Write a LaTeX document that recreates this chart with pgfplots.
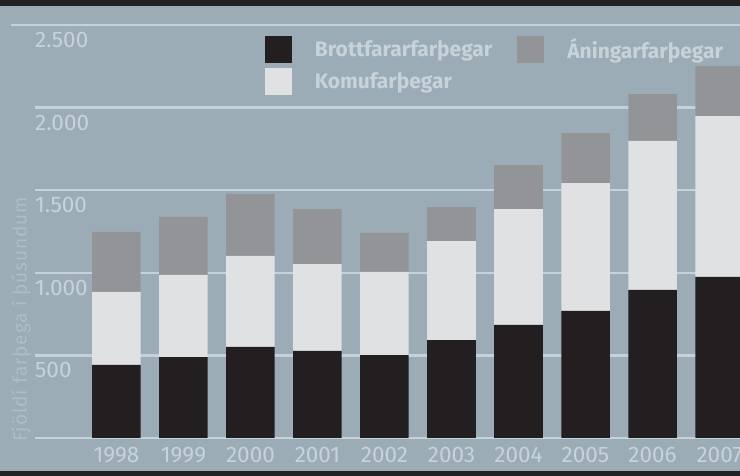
\documentclass[border=0pt]{standalone}
\usepackage{fontspec}
\setmainfont{Fira Sans}
\newfontfamily\ylabfont[LetterSpace=5]{Fira Sans}
\usepackage{pgfplots}
\pgfplotsset{compat=1.18}
\definecolor{bg}{RGB}{155,172,183}
\definecolor{band}{RGB}{35,33,36}
\definecolor{gridc}{RGB}{197,210,218}
\definecolor{brott}{RGB}{35,31,32}
\definecolor{komu}{RGB}{224,225,227}
\definecolor{aning}{RGB}{147,148,152}
\definecolor{ticktext}{RGB}{200,210,217}
\definecolor{ylabtext}{RGB}{174,189,199}
\begin{document}
\begin{tikzpicture}[x=1pt,y=1pt]
\fill[bg] (0,0) rectangle (740,476);
\fill[band] (0,470) rectangle (740,476);
\fill[band] (0,0) rectangle (740,4.5);
\begin{axis}[
  at={(35pt,38pt)}, anchor=south west,
  scale only axis, width=705pt, height=413pt,
  xmin=1996.7836, xmax=2007.306,
  ymin=0, ymax=2500,
  axis line style={draw=none},
  ybar stacked, bar width=48.5pt,
  xtick={1998,1999,2000,2001,2002,2003,2004,2005,2006,2007},
  xticklabels={1998,1999,2000,2001,2002,2003,2004,2005,2006,2007},
  ytick={0,500,1000,1500,2000,2500},
  yticklabels={,500,1.000,1.500,2.000,2.500},
  major tick length=0pt,
  ymajorgrids, grid style={gridc, line width=2.5pt},
  tick label style={font=\fontsize{22.5}{24}\selectfont, text=ticktext, inner sep=0pt},
  /pgf/number format/assume math mode=true,
  xticklabel style={anchor=north, yshift=-9pt},
  yticklabel style={anchor=north west, yshift=-7pt},
  ylabel={Fjöldi farþega í þúsundum},
  ylabel style={at={(axis description cs:-0.0199,-0.0097)}, anchor=west, inner sep=0pt,
    font=\ylabfont\fontsize{19}{22}\selectfont, text=ylabtext},
  transpose legend, legend columns=2,
  legend cell align=left,
  legend style={draw=none, fill=none, at={(axis description cs:0.3262,0.9734)}, anchor=north west,
    inner sep=0pt, outer sep=0pt, row sep=5pt,
    font=\fontsize{21}{22}\selectfont\bfseries, text=ticktext,
    nodes={inner sep=0pt},
    /tikz/every odd column/.append style={column sep=23pt},
    /tikz/every even column/.append style={column sep=25pt}},
  legend image code/.code={\fill[#1] (0pt,-13.5pt) rectangle (27pt,13.5pt);},
]
\addplot[fill=brott, draw=none] coordinates {
 (1998,442) (1999,490) (2000,551) (2001,527) (2002,502)
 (2003,593) (2004,684) (2005,769) (2006,896) (2007,975)};
\addlegendentry{Brottfararfarþegar}
\addplot[fill=komu, draw=none] coordinates {
 (1998,442) (1999,497) (2000,551) (2001,526) (2002,503)
 (2003,599) (2004,702) (2005,774) (2006,902) (2007,974)};
\addlegendentry{Komufarþegar}
\addplot[fill=aning, draw=none] coordinates {
 (1998,363) (1999,351) (2000,375) (2001,333) (2002,236)
 (2003,206) (2004,266) (2005,303) (2006,284) (2007,303)};
\addlegendentry{Áningarfarþegar}
\end{axis}
\draw[gridc, line width=2.5pt] (11,451) -- (36,451);
\pgfresetboundingbox
\useasboundingbox (0,0) rectangle (740,476);
\end{tikzpicture}
\end{document}
